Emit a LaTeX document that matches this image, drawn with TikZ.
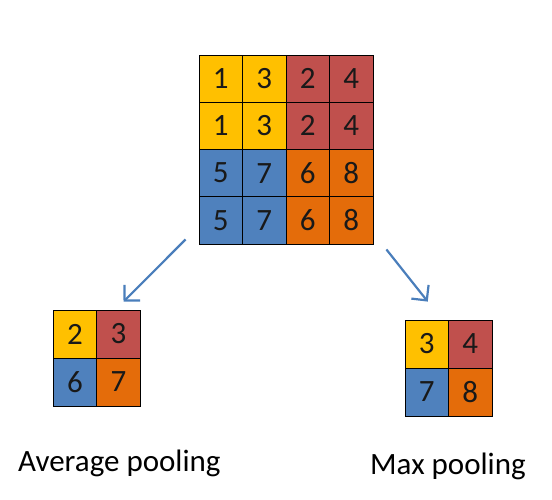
\documentclass[tikz,border=0pt]{standalone}
\usepackage{fontspec}
\setmainfont{Carlito}
\usetikzlibrary{arrows.meta}
\definecolor{cyellow}{HTML}{FFC000}
\definecolor{cred}{HTML}{C0504D}
\definecolor{cblue}{HTML}{4F81BD}
\definecolor{corange}{HTML}{E46C0A}
\definecolor{carrow}{HTML}{4A7EBB}
\tikzstyle{cell}=[draw=black,line width=0.8pt,inner sep=0pt,minimum width=43.5pt,text=black!90,font=\fontsize{31}{31}\selectfont]
\tikzstyle{big}=[cell,minimum height=47.25pt]
\tikzstyle{small}=[cell,minimum height=48pt]
\tikzstyle{pool}=[->,>={Straight Barb[length=11pt,width=22pt]},carrow,line width=2.2pt]
\tikzstyle{caption}=[anchor=base west,inner sep=0pt,font=\fontsize{31}{36}\selectfont]

\begin{document}
\begin{tikzpicture}[x=1pt,y=-1pt]
\useasboundingbox (0,0) rectangle (552,499);
\node[big, fill=cyellow] at (220.75, 78.6) (x11) {1};
\node[big, fill=cyellow] at (264.25, 78.6) (x12) {3};
\node[big, fill=cred] at (307.75, 78.6) (x13) {2};
\node[big, fill=cred] at (351.25, 78.6) (x14) {4};
\node[big, fill=cyellow] at (220.75, 125.9) (x21) {1};
\node[big, fill=cyellow] at (264.25, 125.9) (x22) {3};
\node[big, fill=cred] at (307.75, 125.9) (x23) {2};
\node[big, fill=cred] at (351.25, 125.9) (x24) {4};
\node[big, fill=cblue] at (220.75, 173.1) (x31) {5};
\node[big, fill=cblue] at (264.25, 173.1) (x32) {7};
\node[big, fill=corange] at (307.75, 173.1) (x33) {6};
\node[big, fill=corange] at (351.25, 173.1) (x34) {8};
\node[big, fill=cblue] at (220.75, 220.4) (x41) {5};
\node[big, fill=cblue] at (264.25, 220.4) (x42) {7};
\node[big, fill=corange] at (307.75, 220.4) (x43) {6};
\node[big, fill=corange] at (351.25, 220.4) (x44) {8};

% average pooling
\node[small, fill=cyellow] at (75, 334) (a11) {2};
\node[small, fill=cred] at (118.5, 334) (a12) {3};
\node[small, fill=cblue] at (75, 382) (a21) {6};
\node[small, fill=corange] at (118.5, 382) (a22) {7};

% max pooling
\node[small, fill=cyellow] at (426.75, 344) (m11) {3};
\node[small, fill=cred] at (470.25, 344) (m12) {4};
\node[small, fill=cblue] at (426.75, 392) (m21) {7};
\node[small, fill=corange] at (470.25, 392) (m22) {8};

\draw[pool] ([shift={(-13pt,5pt)}]x41.south west) -- ([shift={(5pt,8pt)}]a12.north);
\draw[pool] ([shift={(13pt,-5pt)}]x44.south east) -- ([shift={(1pt,18pt)}]m11.north);

\node[caption] at (18, 471) (avg) {Average pooling};
\node[caption] at (370, 474) (max) {Max pooling};
\end{tikzpicture}
\end{document}
